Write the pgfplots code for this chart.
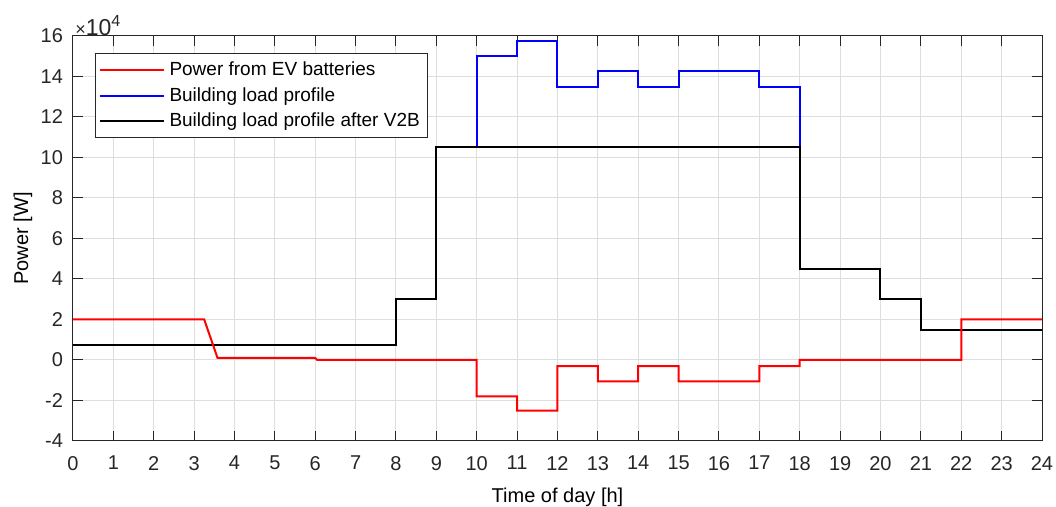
\documentclass[border=0pt]{standalone}
\usepackage{pgfplots}
\pgfplotsset{compat=1.18}
\usepackage{fontspec}
\setmainfont{Liberation Sans}
\definecolor{axgray}{rgb}{0.15,0.15,0.15}
\definecolor{gridgray}{rgb}{0.87,0.87,0.87}
\begin{document}
\begin{tikzpicture}
\useasboundingbox (-36.5pt,-33pt) rectangle (491.5pt,220.5pt);
\begin{axis}[
  scale only axis,
  clip mode=individual,
  width=484.5pt, height=202.5pt,
  xmin=0, xmax=24, ymin=-40000, ymax=160000,
  xtick={0,1,...,24},
  ytick={-40000,-20000,0,20000,40000,60000,80000,100000,120000,140000,160000},
  yticklabels={-4,-2,0,2,4,6,8,10,12,14,16},
  scaled y ticks=false,
  /pgf/number format/assume math mode=true,
  tick label style={font=\fontsize{10}{12}\selectfont, text=axgray},
  xticklabel style={yshift=-4pt},
  yticklabel style={xshift=-1.5pt},
  label style={font=\fontsize{11}{13}\selectfont, text=axgray},
  xlabel={Time of day [h]},
  ylabel={Power [W]},
  every axis x label/.style={at={(rel axis cs:0.5,0)},anchor=center,yshift=-28pt},
  every axis y label/.style={at={(rel axis cs:0,0.5)},anchor=center,rotate=90,yshift=25pt},
  grid=major,
  major grid style={gridgray, line width=0.5pt},
  axis line style={axgray, line width=0.5pt},
  tick style={axgray, line width=0.5pt},
  tick align=inside,
  major tick length=5pt,
  legend cell align=left,
  legend style={at={(rel axis cs:0,1)}, anchor=north west, xshift=11pt, yshift=-8.5pt,
    draw=axgray, line width=0.5pt, font=\fontsize{9.5}{11}\selectfont,
    inner xsep=2pt, inner ysep=2pt, row sep=0.5pt},
  legend image code/.code={\draw[#1] (0pt,0pt) -- (32pt,0pt);},
]
\addlegendimage{red, line width=1pt}
\addlegendentry{Power from EV batteries}
\addlegendimage{blue, line width=1pt}
\addlegendentry{Building load profile}
\addlegendimage{black, line width=1pt}
\addlegendentry{Building load profile after V2B}

\addplot[blue, line width=1pt, forget plot] coordinates {
(0,7500) (8,7500) (8,30000) (9,30000) (9,105000) (10,105000) (10,150000)
(11,150000) (11,157500) (12,157500) (12,135000) (13,135000) (13,142500)
(14,142500) (14,135000) (15,135000) (15,142500) (17,142500) (17,135000)
(18,135000) (18,45000) (20,45000) (20,30000) (21,30000) (21,15000) (24,15000)};

\addplot[black, line width=1pt, forget plot] coordinates {
(0,7500) (8,7500) (8,30000) (9,30000) (9,105000) (18,105000) (18,45000)
(20,45000) (20,30000) (21,30000) (21,15000) (24,15000)};

\addplot[red, line width=1pt, forget plot] coordinates {
(0,20000) (3.25,20000) (3.58,1000) (6,1000) (6.05,0) (10,0) (10,-18000)
(11,-18000) (11,-25000) (12,-25000) (12,-3000) (13,-3000) (13,-10500)
(14,-10500) (14,-3000) (15,-3000) (15,-10500) (17,-10500) (17,-3000)
(18,-3000) (18,0) (22,0) (22,20000) (24,20000)};

\node[anchor=south west, inner sep=1pt, yshift=-1pt, text=axgray, font=\fontsize{11.5}{13}\selectfont]
  at (rel axis cs:0,1) {{\fontsize{9}{10}\selectfont ×}10\textsuperscript{4}};
\end{axis}
\end{tikzpicture}
\end{document}
